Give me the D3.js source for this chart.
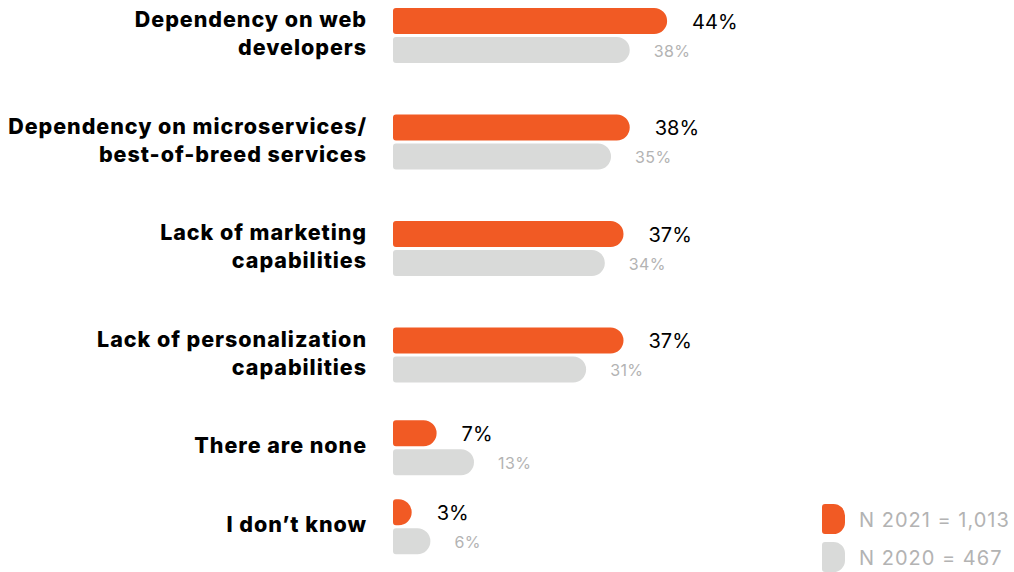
<!DOCTYPE html>
<html>
<head>
<meta charset="utf-8">
<script src="https://cdn.jsdelivr.net/npm/d3@7"></script>
<style>
  html, body { margin: 0; padding: 0; background: #ffffff; }
  svg { display: block; }
</style>
</head>
<body>
<svg id="chart" width="1014" height="572"></svg>
<script>
// Challenges reported, 2021 survey vs 2020 survey (% of respondents)
const categories = [
  "Dependency on web developers",
  "Dependency on microservices/ best-of-breed services",
  "Lack of marketing capabilities",
  "Lack of personalization capabilities",
  "There are none",
  "I don\u2019t know"
];
// Label line breaks as set in the chart
const labelLines = [
  ["Dependency on web", "developers"],
  ["Dependency on microservices/", "best-of-breed services"],
  ["Lack of marketing", "capabilities"],
  ["Lack of personalization", "capabilities"],
  ["There are none"],
  ["I don\u2019t know"]
];
const values2021 = [44, 38, 37, 37, 7, 3];
const values2020 = [38, 35, 34, 31, 13, 6];
const legendLabels = ["N 2021 = 1,013", "N 2020 = 467"];

const ORANGE = "#f15a24";
const GREY = "#d9dad9";
const GREY_TEXT = "#b3b3b3";
const FONT = "Inter, 'DejaVu Sans', sans-serif";

const svg = d3.select("#chart");

// Horizontal value scale (percent -> px)
const x = d3.scaleLinear().domain([0, 100]).range([393, 393 + 623]);

// Each row's vertical space depends on how many lines its label takes
const rowWeight = n => (n > 1 ? 106.5 : 79);
const cum = [];
let acc = 0;
labelLines.forEach((lines, i) => {
  if (i > 0) acc += (rowWeight(labelLines[i - 1].length) + rowWeight(lines.length)) / 2;
  cum.push(acc);
});
const unitScale = d3.scaleLinear().domain([0, 1]).range([35.5, 36.5]);
const yCenter = d3.scaleOrdinal().domain(categories).range(cum.map(c => unitScale(c)));

const BAR_H = 26;
const BAR_GAP = 3;

// Bar outline: small radius on the left, fully rounded on the right
function barPath(x0, y0, w, h, rl, rr) {
  rr = Math.min(rr, h / 2, Math.max(0, w - rl));
  rl = Math.min(rl, w / 2, h / 2);
  return `M${x0 + rl},${y0}` +
    `H${x0 + w - rr}` +
    `A${rr},${rr} 0 0 1 ${x0 + w},${y0 + rr}` +
    `V${y0 + h - rr}` +
    `A${rr},${rr} 0 0 1 ${x0 + w - rr},${y0 + h}` +
    `H${x0 + rl}` +
    `A${rl},${rl} 0 0 1 ${x0},${y0 + h - rl}` +
    `V${y0 + rl}` +
    `A${rl},${rl} 0 0 1 ${x0 + rl},${y0}Z`;
}

const rows = categories.map((c, i) => ({
  cat: c, lines: labelLines[i], v21: values2021[i], v20: values2020[i]
}));

const g = svg.append("g");
const row = g.selectAll("g.row").data(rows).join("g")
  .attr("class", "row")
  .attr("transform", d => `translate(0,${yCenter(d.cat)})`);

// Category labels
row.append("text")
  .attr("text-anchor", "end")
  .attr("font-family", FONT)
  .attr("font-weight", 800)
  .attr("font-size", 21.5)
  .attr("letter-spacing", 0.95)
  .attr("fill", "#000")
  .selectAll("tspan")
  .data(d => d.lines.map((t, k) => ({ t, k, n: d.lines.length })))
  .join("tspan")
  .attr("x", 367)
  .attr("y", d => 5.5 + (d.k - (d.n - 1) / 2) * 28)
  .text(d => d.t);

// 2021 bars
row.append("path")
  .attr("fill", ORANGE)
  .attr("d", d => barPath(x(0), -BAR_H - BAR_GAP / 2, x(d.v21) - x(0), BAR_H, 3, 13));

// 2020 bars
row.append("path")
  .attr("fill", GREY)
  .attr("d", d => barPath(x(0), BAR_GAP / 2, x(d.v20) - x(0), BAR_H, 3, 13));

// Value labels
row.append("text")
  .attr("x", d => x(d.v21) + 25)
  .attr("y", -BAR_H / 2 - BAR_GAP / 2 + 7.5)
  .attr("font-family", FONT)
  .attr("font-size", 20)
  .attr("fill", "#000")
  .text(d => d.v21 + "%");

row.append("text")
  .attr("x", d => x(d.v20) + 24)
  .attr("y", BAR_H / 2 + BAR_GAP / 2 + 6.5)
  .attr("font-family", FONT)
  .attr("font-size", 16)
  .attr("letter-spacing", 0.4)
  .attr("fill", GREY_TEXT)
  .text(d => d.v20 + "%");

// Legend
const legend = svg.append("g").attr("transform", "translate(822,504)");
const legendItems = legend.selectAll("g").data(legendLabels).join("g")
  .attr("transform", (d, i) => `translate(0,${i * 38})`);
legendItems.append("path")
  .attr("fill", (d, i) => (i === 0 ? ORANGE : GREY))
  .attr("d", barPath(0, 0, 23, 30, 3, 11.5));
legendItems.append("text")
  .attr("x", 37)
  .attr("y", 23)
  .attr("font-family", FONT)
  .attr("font-size", 20)
  .attr("letter-spacing", 1)
  .attr("fill", GREY_TEXT)
  .text(d => d);
</script>
</body>
</html>
